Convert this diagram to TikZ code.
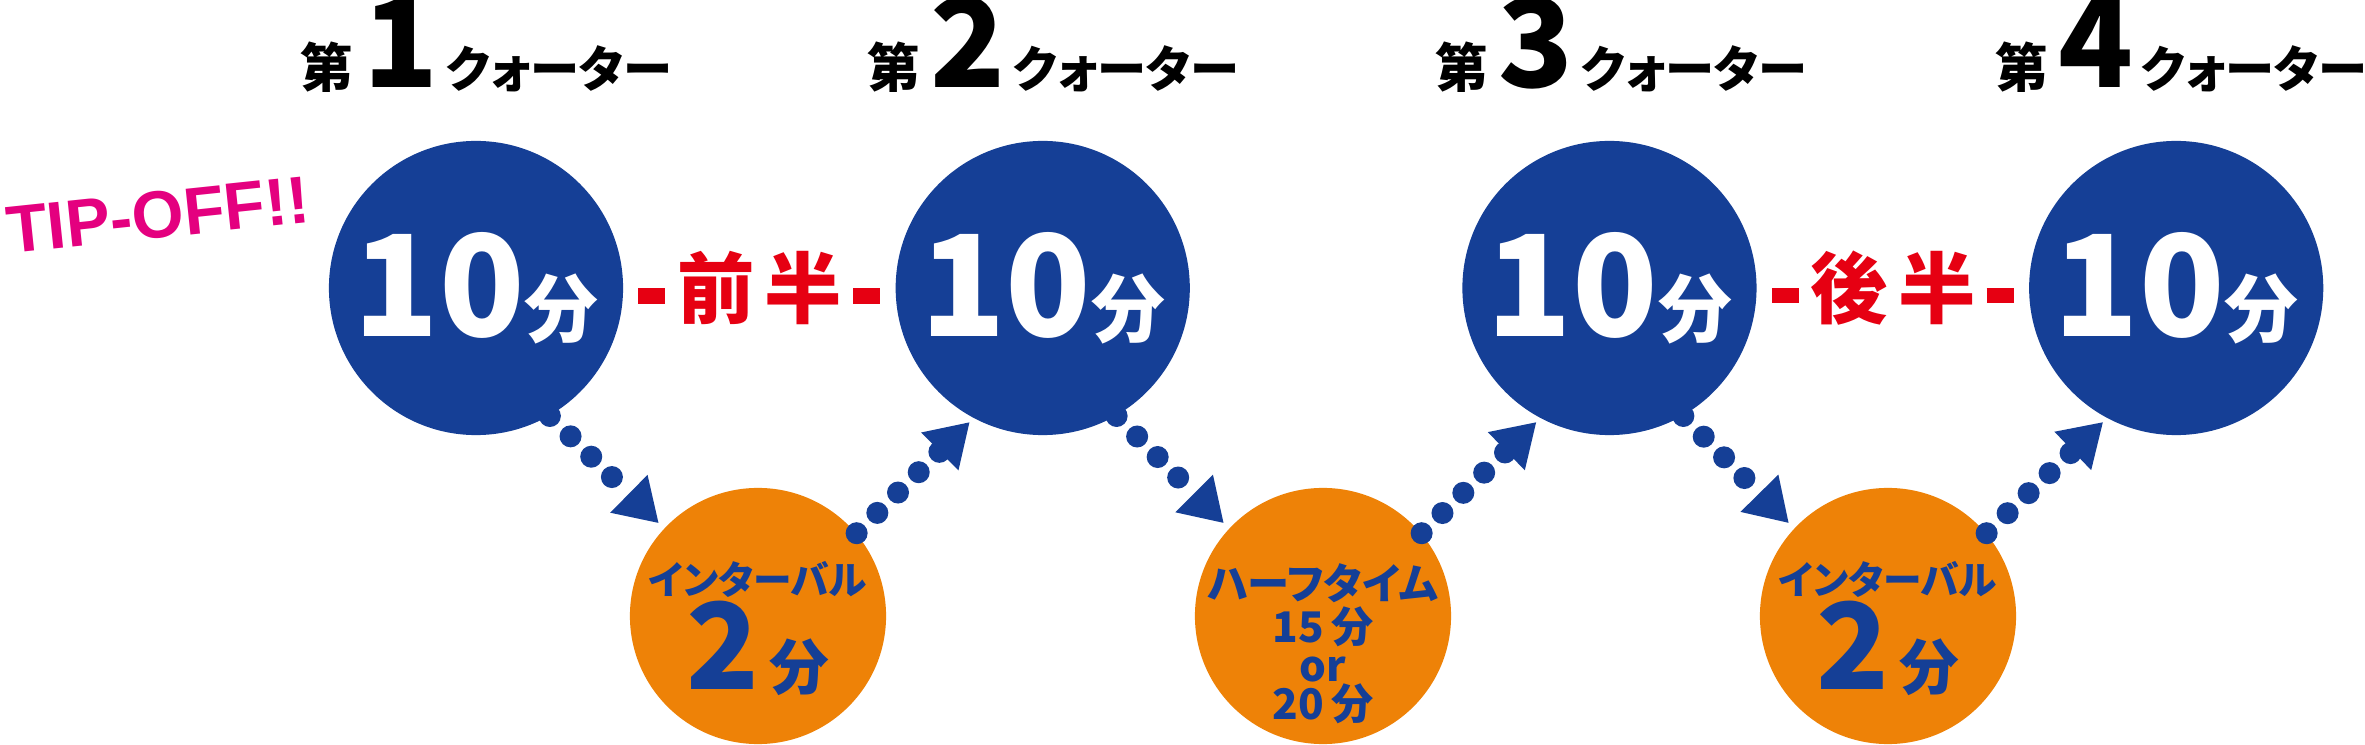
\documentclass[tikz,border=0pt]{standalone}
\usepackage{fontspec}
\usetikzlibrary{arrows.meta,positioning}

\IfFontExistsTF{Noto Sans CJK JP Black}
  {\newfontfamily\heavyjp{Noto Sans CJK JP Black}[RawFeature=+palt]}
  {\newfontfamily\heavyjp{Noto Sans CJK JP}[UprightFont=* Bold,RawFeature=+palt]}
\newfontfamily\tipfont{Liberation Sans}[UprightFont=* Bold]

\definecolor{quarterblue}{HTML}{153F96}
\definecolor{breakorange}{HTML}{EE8207}
\definecolor{halfred}{HTML}{E60012}
\definecolor{tipmagenta}{HTML}{E4007F}

\newcommand\fs[1]{\fontsize{#1}{#1}\selectfont}
\newcommand\halfbar{\rule[0.14cm]{0.27cm}{0.15cm}}
\newcommand\qname[1]{{\fs{15pt}第}\hspace{3pt}{\fs{35pt}#1}\hspace{2pt}クォーター}

\begin{document}
\begin{tikzpicture}[x=0.01cm, y=0.01cm, node distance=2.71cm,
    quarter/.style={circle, fill=quarterblue, minimum size=2.94cm, inner sep=0pt, text=white, font=\heavyjp\fs{40pt}},
    breakcircle/.style={circle, fill=breakorange, minimum size=2.56cm, inner sep=0pt},
    breaktext/.style={text=quarterblue, align=center, inner sep=0pt, font=\heavyjp\fs{11pt}},
    qtitle/.style={anchor=base, inner sep=0pt, font=\heavyjp\fs{14pt}},
    halflabel/.style={text=halfred, inner sep=0pt, font=\heavyjp\fs{22pt}},
    tipoff/.style={text=tipmagenta, rotate=6, inner sep=0pt, font=\tipfont\fs{19pt}},
    dotarrow/.style={draw=quarterblue, line width=0.22cm, line cap=round, dash pattern=on 0pt off 0.29cm, -{Triangle[length=0.42cm,width=0.5cm]}}]

    \fill[white] (0,0) rectangle (2365,745);
    \useasboundingbox (0,0) rectangle (2365,745);

    % quarters
    \node[quarter] (c1) at (476,457) {10{\fs{21pt}分}};
    \node[quarter, right=of c1] (c2) {10{\fs{21pt}分}};
    \node[quarter, right=of c2] (c3) {10{\fs{21pt}分}};
    \node[quarter, right=of c3] (c4) {10{\fs{21pt}分}};

    \node[qtitle] (q1) at (486,657) {\qname{1}};
    \node[qtitle] (q2) at (1053,657) {\qname{2}};
    \node[qtitle] (q3) at (1621,657) {\qname{3}};
    \node[qtitle] (q4) at (2181,657) {\qname{4}};

    \node[tipoff] (tip) at (158,530) {TIP-OFF!!};

    % breaks
    \node[breakcircle] (o1) at (758,129) {};
    \node[breakcircle] (o2) at (1323,129) {};
    \node[breakcircle] (o3) at (1888,129) {};

    \node[breaktext] (t1) at ([shift={(0,-13)}]o1) {インターバル\\{\fs{34pt}2}\hspace{3pt}{\fs{17pt}分}};
    \node[breaktext, font=\heavyjp\fontsize{12pt}{11pt}\selectfont] (t2) at ([shift={(0,-28)}]o2) {ハーフタイム\\15\,分\\or\\20\,分};
    \node[breaktext] (t3) at ([shift={(0,-13)}]o3) {インターバル\\{\fs{34pt}2}\hspace{3pt}{\fs{17pt}分}};

    \path (c1) -- (c2) node[midway, halflabel] (h1) {\halfbar\hspace{0.12cm}前\hspace{0.1cm}半\hspace{0.11cm}\halfbar};
    \path (c3) -- (c4) node[midway, halflabel] (h2) {\halfbar\hspace{0.12cm}後\hspace{0.1cm}半\hspace{0.11cm}\halfbar};

    \draw[dotarrow, shorten >=0.07cm] (c1.-60) -- (o1.137);
    \draw[dotarrow, shorten >=0.05cm] (o1.40) -- (c2.242);
    \draw[dotarrow, shorten >=0.07cm] (c2.-60) -- (o2.137);
    \draw[dotarrow, shorten >=0.05cm] (o2.40) -- (c3.242);
    \draw[dotarrow, shorten >=0.07cm] (c3.-60) -- (o3.137);
    \draw[dotarrow, shorten >=0.05cm] (o3.40) -- (c4.242);
\end{tikzpicture}
\end{document}
